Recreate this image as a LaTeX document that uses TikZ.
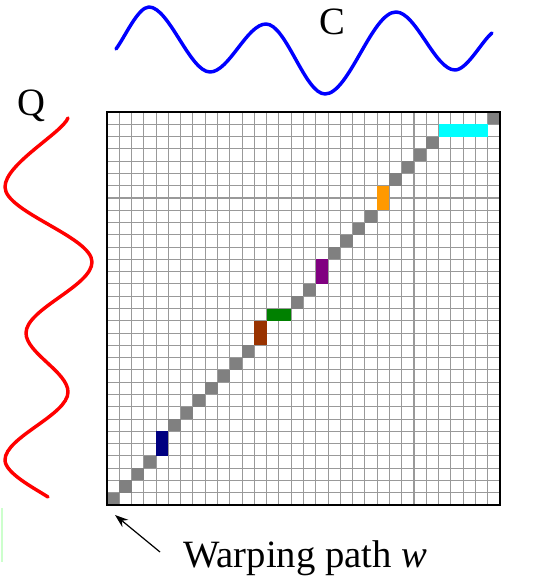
\documentclass[tikz,border=0pt]{standalone}
\usepackage{fontspec}
\setmainfont{Liberation Serif}
\usetikzlibrary{arrows.meta}
\definecolor{pathgray}{HTML}{808080}
\definecolor{gridgray}{HTML}{999999}
\definecolor{cnavy}{HTML}{000080}
\definecolor{cbrown}{HTML}{993300}
\definecolor{cgreen}{HTML}{008000}
\definecolor{cpurple}{HTML}{800080}
\definecolor{corange}{HTML}{FF9900}
\definecolor{ccyan}{HTML}{00FFFF}
\definecolor{lightgreen}{HTML}{CCFFCC}
\tikzset{
  lbl/.style={font=\fontsize{29}{33}\selectfont, inner sep=0pt},
  wave/.style={line width=2.6pt, line cap=round, line join=round},
  gridline/.style={gridgray, line width=0.8pt},
}
\begin{document}
\begin{tikzpicture}[x=0.75pt,y=0.75pt]
\useasboundingbox (0,0) rectangle (535,581);
% light green mark
\fill[lightgreen] (0.5,19) rectangle (3,73);
% grid
\begin{scope}[shift={(107,76)}, x=9.21pt, y=9.21pt]
  \foreach \k in {0,...,32} {
    \draw[gridline] (\k,0) -- (\k,32);
    \draw[gridline] (0,\k) -- (32,\k);
  }
  % path cells
  \foreach \i/\j in {0/0,1/1,2/2,3/3,5/6,6/7,7/8,8/9,9/10,10/11,11/12,15/16,16/17,18/20,19/21,20/22,21/23,23/26,24/27,25/28,26/29,31/31}
    \fill[pathgray] (\i,\j) rectangle ++(1,1);
  \fill[cnavy] (4,4) rectangle ++(1,2);
  \fill[cbrown] (12,13) rectangle ++(1,2);
  \fill[cgreen] (13,15) rectangle ++(2,1);
  \fill[cpurple] (17,18) rectangle ++(1,2);
  \fill[corange] (22,24) rectangle ++(1,2);
  \fill[ccyan] (27,30) rectangle ++(4,1);
  \draw[black, line width=1.2pt] (0,0) rectangle (32,32);
  \coordinate (corner) at (0,0);
\end{scope}
% C wave
\draw[wave, blue] (116,532) .. controls (125,544) and (138,574) .. (149,574)
  .. controls (169,574) and (190,509) .. (210,509)
  .. controls (229,509) and (247,557) .. (266,557)
  .. controls (286,557) and (305,487) .. (325,487)
  .. controls (349,487) and (372,569) .. (396,569)
  .. controls (416,569) and (435,511) .. (455,511)
  .. controls (467,511) and (482,540) .. (492,548);
% Q wave
\draw[wave, red] (68,463) .. controls (62,448) and (5,417) .. (5,394)
  .. controls (5,369) and (92,344) .. (92,319)
  .. controls (92,295) and (26,272) .. (26,248)
  .. controls (26,228) and (68,209) .. (68,189)
  .. controls (68,166) and (5,144) .. (5,121)
  .. controls (5,108) and (34,93) .. (48,84);
% labels
\node[lbl, anchor=base] (clabel) at (332,546) {C};
\node[lbl, anchor=base] (qlabel) at (31,465) {Q};
\node[lbl, anchor=base west] (wlabel) at (183,13) {Warping path \textit{w}};
\coordinate (tail) at (160,29);
\coordinate (tip) at (115,66);
\draw[line width=0.9pt, -{Stealth[length=10pt,width=7pt]}] (tail) -- (tip);
\end{tikzpicture}
\end{document}
